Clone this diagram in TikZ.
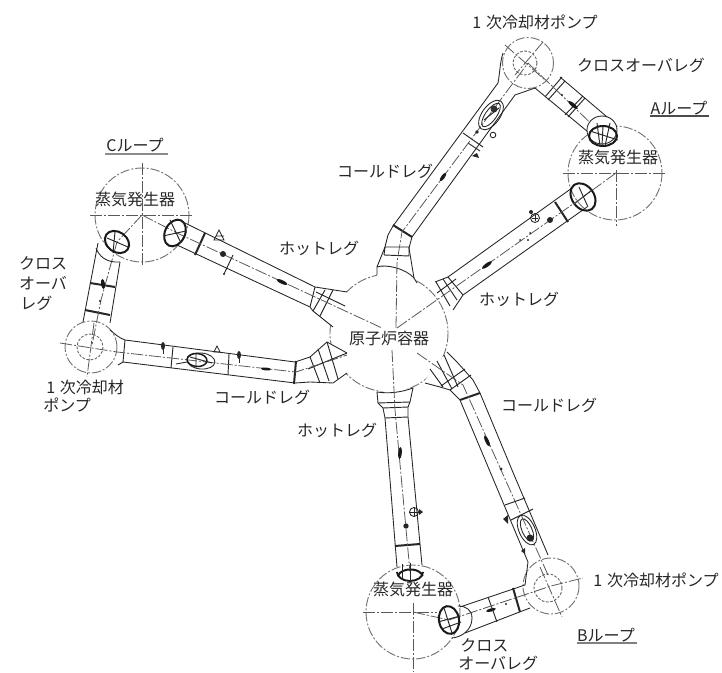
\documentclass[tikz,border=0pt]{standalone}
\usepackage{fontspec}
\setmainfont{Noto Sans CJK JP}
\usetikzlibrary{shapes.geometric}
\tikzset{
  pipe/.style={line width=0.65pt,draw=black!85},
  noz/.style={line width=0.65pt,draw=black!85},
  thick band/.style={line width=1.5pt,draw=black!85},
  band/.style={line width=0.7pt,draw=black!85},
  cl/.style={line width=0.6pt,draw=black!65,dash pattern=on 9pt off 1.5pt on 1.5pt off 1.5pt},
  bigc/.style={line width=0.7pt,draw=black!55,dash pattern=on 7pt off 1.5pt on 1.5pt off 1.5pt},
  inner/.style={line width=0.7pt,draw=black!60,dash pattern=on 2pt off 1.2pt},
  ring/.style={line width=1.5pt,draw=black!90},
  lab/.style={font=\fontsize{12}{15}\selectfont,text=black!85,inner sep=0pt},
  under/.style={line width=0.8pt,draw=black!70},
  dotf/.style={fill=black!85},
}
\begin{document}
\begin{tikzpicture}[x=0.75pt,y=-0.75pt]
\useasboundingbox (0,0) rectangle (722,673);
% big circles
\draw[bigc] (389,333) circle (59);
\draw[bigc] (615,173) circle (47);
\draw[bigc] (142,215) circle (47);
\draw[bigc] (413,612) circle (47);
\draw[bigc] (528,63) circle (25.5);
\draw[bigc] (91,347) circle (26);
\draw[bigc] (551,586) circle (28);
\draw[inner] (525,63) circle (12);
\draw[inner] (90,347) circle (13);
\draw[inner] (548,588) circle (14);
% white masks where nozzles cover the vessel outline
\fill[white] (377,267) -- (414,278) -- (417,284) -- (377,276) -- cycle;
\fill[white] (435,282) -- (448,277) -- (463,295) -- (453,310) -- (447,300) -- cycle;
\fill[white] (315,287) -- (347,292) -- (333,327) -- (313,311) -- cycle;
\fill[white] (310,357) -- (327,342) -- (347,353) -- (347,373) -- (333,383) -- (310,382) -- cycle;
\fill[white] (377,392) -- (413,388) -- (410,402) -- (378,403) -- cycle;
\fill[white] (423,383) -- (447,352) -- (457,362) -- (473,380) -- (460,400) -- (440,387) -- cycle;
% ---------- Cold leg A
\draw[noz] (377,267) -- (385,247) -- (388,235) -- (393,226) -- (498,83) .. controls (500,72) and (500,62) .. (503,53);
\draw[noz] (414,278) -- (409,248) -- (412,237) -- (425,219) -- (515,95) -- (535,88);
\draw[pipe] (377,267) -- (377,275) (414,278) -- (417,283);
\draw[pipe] (377,267) .. controls (385,264) and (405,268) .. (414,278);
\draw[band] (385,247) -- (409,247) (384,255) -- (409,256) (385,247) -- (384,255) (409,247) -- (409,256);
\draw[thick band] (393,225) -- (412,237);
\draw[band] (463,133) -- (483,147) (468,143) -- (480,151);
\draw[cl] (396,328) -- (397,262) -- (402,232) -- (528,63);
\draw[pipe] (491,115) ellipse [x radius=9,y radius=17,rotate=-36];
\draw[pipe] (491,115) ellipse [x radius=5.5,y radius=14,rotate=-36];
\fill[black!80] (494,109) circle (3.5);
\draw[band] (484,120) -- (499,108);
\fill[dotf] (477,132) circle (1.8);
\draw[pipe] (493,135) circle (2.8);
\fill[black!85] (477,153) -- (472,156) -- (479,158) -- cycle;
\fill[black!90] (443,177) ellipse [x radius=1.8,y radius=5,rotate=-36];
% ---------- Crossover A
\draw[pipe] (560,77) -- (613,122) (535,88) -- (588,132);
\draw[cl] (505,45) -- (545,80);
\draw[cl] (543,42) -- (515,75);
\draw[cl] (528,63) -- (603,135);
\draw[band] (545,97) -- (562,77) (548,100) -- (565,81);
\draw[band] (565,115) -- (583,96) (568,117) -- (585,98);
\fill[black!90] (573,105) ellipse [x radius=6,y radius=1.8,rotate=-40];
\fill[dotf] (562,95) circle (1.2);
% SG A nozzles
\draw[pipe,fill=white] (602,130) ellipse [x radius=15,y radius=14];
\draw[ring] (603,136) ellipse [x radius=14,y radius=10];
\draw[band] (590,131) -- (618,140) (603,126) -- (602,146) (597,123) -- (600,146) (610,123) -- (605,146);
\draw[cl] (563,173) -- (665,173);
\draw[cl] (616,170) -- (616,226);
\draw[cl] (616,173) -- (583,197);
% ---------- Hot leg A
\draw[noz] (435,282) -- (448,277) -- (572,188) (587,207) -- (463,295) -- (453,310);
\draw[ring] (583,197) ellipse [x radius=11,y radius=15,rotate=36];
\draw[band] (574,204) -- (592,190);
\draw[band] (579,187) -- (588,207);
\draw[thick band] (555,202) -- (568,222);
\draw[band] (448,277) -- (463,295) (443,279) -- (457,300) (436,282) -- (450,306);
\draw[band] (437,293) -- (456,279);
\draw[cl] (397,328) -- (583,197);
\draw[pipe] (535,218) circle (4.5);
\draw[band] (535,215) -- (535,221) (532,218) -- (538,218);
\fill[black!85] (531,212) circle (2);
\fill[dotf] (550,220) circle (3);
\fill[dotf] (530,233) circle (1) (528,240) circle (1.2) (520,240) circle (1);
\fill[black!90] (487,265) ellipse [x radius=6,y radius=1.8,rotate=36];
% ---------- Hot leg C
\draw[noz] (185,223) -- (315,287) -- (347,292) (333,327) -- (313,311) -- (310,307) -- (177,245);
\draw[band] (315,287) -- (310,307) (325,290) -- (313,311) (333,290) -- (320,316);
\draw[band] (316,292) -- (345,306);
\draw[thick band] (205,233) -- (195,255);
\draw[cl] (142,215) -- (177,233) -- (382,328);
\draw[ring] (175,233) ellipse [x radius=10,y radius=14,rotate=-26];
\draw[band] (163,236) -- (186,231) (170,220) -- (181,243);
\draw[pipe] (214,240) -- (219,230) -- (224,240) -- cycle (216,236) -- (224,236);
\fill[dotf] (223,254) circle (3);
\draw[band] (233,255) -- (224,274);
\fill[dotf] (224,274) circle (1.2);
\fill[black!90] (282,282) ellipse [x radius=6,y radius=1.8,rotate=-25];
% ---------- Cold leg C
\draw[noz] (110,330) .. controls (115,334) and (119,338) .. (125,340) -- (295,362) -- (310,357) -- (327,342) -- (347,353) (347,373) -- (333,383) -- (310,382) -- (295,383) -- (123,362) -- (118,365);
\draw[band] (125,340) -- (123,362);
\draw[band] (173,347) -- (171,368);
\draw[band] (229,354) -- (228,375);
\draw[thick band] (296,361) -- (294,384);
\draw[band] (310,357) -- (320,383) (327,342) -- (338,379) (318,349) -- (329,381) (308,369) -- (347,353);
\draw[cl] (60,343) -- (117,352) -- (296,372) -- (347,355);
\draw[cl] (94,323) -- (87,377);
\draw[pipe] (176,364) -- (187,362);
\fill[dotf] (163,346) ellipse [x radius=2,y radius=4];
\draw[pipe] (163,346) -- (163,354);
\fill[dotf] (239,355) ellipse [x radius=2,y radius=4];
\draw[pipe] (239,355) -- (239,363);
\draw[pipe] (201,361) ellipse [x radius=14,y radius=8,rotate=-5];
\draw[line width=1.1pt,draw=black!90] (197,360) ellipse [x radius=10,y radius=6.5,rotate=-5];
\draw[band] (190,357) -- (212,363) (196,353) -- (196,368);
\draw[pipe] (214,352) -- (217,346) -- (220,352) -- cycle;
\fill[black!90] (266,369) ellipse [x radius=5,y radius=1.5,rotate=-5];
% ---------- Crossover C
\draw[pipe] (98,243) -- (83,322) (120,262) -- (110,323);
\draw[thick band] (90,283) -- (115,287);
\draw[thick band] (85,310) -- (110,315);
\draw[cl] (142,215) -- (117,242) -- (101,300) -- (92,345);
\fill[black!90] (103,284) ellipse [x radius=2,y radius=5,rotate=8];
\fill[dotf] (100,301) circle (1.2);
\draw[pipe] (96,248) .. controls (99,256) and (106,263) .. (120,262);
\draw[ring] (117,242) ellipse [x radius=13,y radius=10,rotate=-35];
\draw[band] (107,238) -- (128,247) (115,232) -- (113,253);
\draw[cl] (90,215) -- (192,215);
\draw[cl] (142,163) -- (142,267);
% ---------- Hot leg B
\draw[noz] (377,392) -- (378,403) -- (383,408) -- (385,418) -- (397,567);
\draw[noz] (413,388) -- (410,402) -- (408,407) -- (408,417) -- (422,565);
\draw[pipe] (377,392) .. controls (390,394) and (402,392) .. (413,388);
\draw[band] (378,403) -- (410,402) (383,408) -- (408,407) (385,418) -- (408,417);
\draw[thick band] (395,546) -- (420,544);
\draw[cl] (392,350) -- (395,410) -- (410,572);
\fill[black!90] (400,453) ellipse [x radius=1.8,y radius=6,rotate=-5];
\draw[pipe] (414,512) circle (4.5);
\draw[band] (414,507) -- (414,517) (409,512) -- (419,512);
\fill[black!85] (419,509) -- (423,512) -- (419,515) -- cycle;
\fill[dotf] (406,526) circle (2.7);
\draw[line width=1.4pt,draw=black!90] (397,572) arc (180:0:13 and 9);
\draw[ring] (398,576) arc (190:350:12.5 and 8);
\draw[band] (410,563) -- (410,581) (402,564) -- (402,580);
\draw[cl] (363,612) -- (437,612);
\draw[cl] (413,603) -- (413,672);
\draw[cl] (413,612) -- (449,620);
% ---------- Cold leg B
\draw[noz] (447,352) -- (457,362) -- (473,380) -- (480,393) -- (512,470) -- (548,555);
\draw[noz] (425,383) -- (440,387) -- (450,390) -- (460,400) -- (528,562) -- (525,585);
\draw[thick band] (460,400) -- (480,393);
\draw[band] (441,386) -- (465,369) (450,390) -- (471,375) (430,369) -- (443,387) (437,361) -- (452,389) (444,355) -- (458,387);
\draw[cl] (417,353) -- (463,385) -- (548,575);
\fill[black!90] (487,441) ellipse [x radius=1.8,y radius=6,rotate=25];
\fill[dotf] (501,469) circle (1.5);
\draw[band] (505,505) -- (525,498) (511,520) -- (533,509);
\draw[pipe] (527,530) ellipse [x radius=8,y radius=16,rotate=24];
\draw[pipe] (527,530) ellipse [x radius=5,y radius=12,rotate=24];
\fill[black!85] (530,538) circle (3.5);
\fill[black!85] (503,519) -- (508,515) -- (508,524) -- cycle;
\fill[black!85] (521,551) -- (525,548) -- (525,554) -- cycle;
% ---------- Crossover B
\draw[pipe] (460,607) -- (525,585) (465,633) -- (530,608);
\draw[band] (488,597) -- (497,622);
\draw[thick band] (513,588) -- (520,612);
\draw[cl] (449,620) -- (551,586) -- (583,578);
\draw[cl] (540,567) -- (562,617);
\fill[black!90] (491,610) ellipse [x radius=5,y radius=1.6,rotate=15];
\fill[dotf] (506,604) circle (1.2);
\draw[pipe] (452,638) .. controls (462,637) and (472,630) .. (472,618) .. controls (472,610) and (466,606) .. (458,606);
\draw[ring] (449,620) ellipse [x radius=10,y radius=14,rotate=10];
\draw[band] (438,622) -- (460,616) (444,608) -- (452,633) (442,629) -- (461,622);
% ---------- labels
\node[lab] (a) at (535,22) {1\hspace{0.3em}次冷却材ポンプ};
\node[lab] (b) at (641,65) {クロスオーバレグ};
\node[lab] (c) at (679,108) {Aループ};
\draw[under] (650,116) -- (709,116);
\node[lab] (d) at (618,157) {蒸気発生器};
\node[lab] (e) at (385,171) {コールドレグ};
\node[lab] (f) at (519,299) {ホットレグ};
\node[lab] (g) at (319,248) {ホットレグ};
\node[lab] (h) at (262,397) {コールドレグ};
\node[lab] (i) at (389,338) {原子炉容器};
\node[lab] (j) at (135,145) {Cループ};
\draw[under,draw=black!45,line width=1.1pt] (105,154) -- (168,154);
\node[lab] (k) at (135,199) {蒸気発生器};
\node[lab] (l1) at (43,263) {クロス};
\node[lab] (l2) at (43,283) {オーバ};
\node[lab,anchor=west] (l3) at (20,303) {レグ};
\node[lab,anchor=west] (m1) at (46,387) {1\hspace{0.3em}次冷却材};
\node[lab,anchor=west] (m2) at (43,405) {ポンプ};
\node[lab] (n) at (337,430) {ホットレグ};
\node[lab] (o) at (549,405) {コールドレグ};
\node[lab] (p) at (413,589) {蒸気発生器};
\node[lab] (q) at (656,580) {1\hspace{0.3em}次冷却材ポンプ};
\node[lab] (r) at (606,635) {Bループ};
\draw[under,draw=black!50,line width=1pt] (577,643) -- (637,643);
\node[lab,anchor=west] (s1) at (460,645) {クロス};
\node[lab,anchor=west] (s2) at (458,663) {オーバレグ};
\end{tikzpicture}
\end{document}
